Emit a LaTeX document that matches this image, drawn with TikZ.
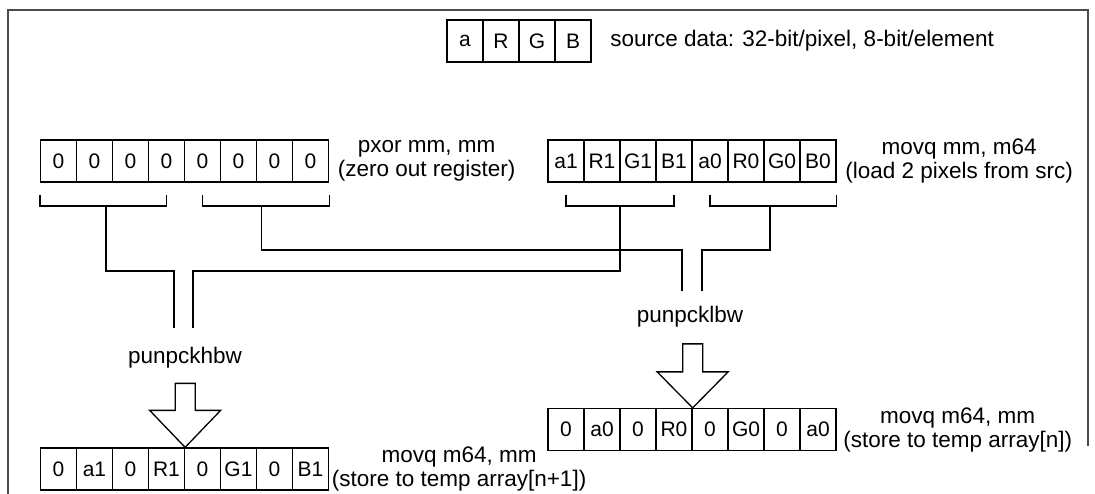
\documentclass[tikz,border=0pt]{standalone}
\usepackage{fontspec}
\setmainfont{Liberation Sans}
\begin{document}
\begin{tikzpicture}[x=1pt,y=-1pt,line width=1.3pt,
  cell/.style={draw,minimum width=36pt,minimum height=42pt,inner sep=0pt,font=\fontsize{21}{23}\selectfont},
  lbl/.style={font=\fontsize{22.5}{24}\selectfont,align=center,inner sep=2pt},
  frame/.style={line width=1.6pt,draw=black!70},
  wire/.style={line width=1.3pt},
  hollow/.style={draw,line width=1.3pt,fill=white,line join=miter}]
\useasboundingbox (0,0) rectangle (1095,494);
\draw[frame] (8,494) -- (8,10) -- (1088,10) -- (1088,446);
% legend
\foreach \t [count=\i] in {a,R,G,B}
  \node[cell] (S\i) at ({447+18+(\i-1)*36},41) {\t};
\node[lbl,anchor=west] (stxt) at ([xshift=16pt]S4.east) {source data: 32-bit/pixel, 8-bit/element};
% top registers
\foreach \i in {1,...,8}
  \node[cell] (P\i) at ({40.5+18+(\i-1)*36},161) {0};
\foreach \t [count=\i] in {a1,R1,G1,B1,a0,R0,G0,B0}
  \node[cell] (M\i) at ({548+18+(\i-1)*36},161) {\t};
\node[lbl,anchor=west] (ptxt) at ([xshift=6pt]P8.east) {pxor mm, mm\\(zero out register)};
\node[lbl,anchor=west] (mtxt) at ([xshift=6pt]M8.east) {movq mm, m64\\(load 2 pixels from src)};
% bottom registers
\foreach \t [count=\i] in {0,a1,0,R1,0,G1,0,B1}
  \node[cell] (H\i) at ({40.5+18+(\i-1)*36},469) {\t};
\foreach \t [count=\i] in {0,a0,0,R0,0,G0,0,a0}
  \node[cell] (L\i) at ({548+18+(\i-1)*36},429.5) {\t};
\node[lbl,anchor=west] (htxt) at ([xshift=0pt]H8.east) {movq m64, mm\\(store to temp array[n+1])};
\node[lbl,anchor=west] (ltxt) at ([xshift=4pt]L8.east) {movq m64, mm\\(store to temp array[n])};
% brackets
\draw[wire] (P1.west |- 0,195) -- (P1.west |- 0,206) -- (P4 |- 0,206) -- (P4 |- 0,195);
\draw[wire] (P5 |- 0,195) -- (P5 |- 0,206) -- (P8.east |- 0,206) -- (P8.east |- 0,195);
\draw[wire] (M1 |- 0,195) -- (M1 |- 0,206) -- (M4 |- 0,206) -- (M4 |- 0,195);
\draw[wire] (M5 |- 0,195) -- (M5 |- 0,206) -- (M8.east |- 0,206) -- (M8.east |- 0,195);
\coordinate (b1) at (106,206);
\coordinate (b2) at (261.5,206);
\coordinate (b3) at (620,206);
\coordinate (b4) at (770,206);
\coordinate (e1) at (174,328);
\coordinate (e2) at (193,328);
\coordinate (e3) at (682,291);
\coordinate (e4) at (702,291);
% wires
\draw[wire] (b1) -- (106,271) -- (174,271) -- (e1);
\draw[wire] (b3) -- (620,271) -- (193,271) -- (e2);
\draw[wire] (b2) -- (261.5,250) -- (682,250) -- (e3);
\draw[wire] (b4) -- (770,250) -- (702,250) -- (e4);
% operation labels
\node[lbl] (khbw) at (185,358) {punpckhbw};
\node[lbl] (klbw) at (690,317) {punpcklbw};
% hollow arrows
\draw[hollow] (H4.north east) -- ++(-35.5,-37) -- ++(25.5,0) -- ++(0,-27) -- ++(20,0) -- ++(0,27) -- ++(25.5,0) -- cycle;
\draw[hollow] (L4.north east) -- ++(-35.5,-36) -- ++(25.5,0) -- ++(0,-28) -- ++(20,0) -- ++(0,28) -- ++(25.5,0) -- cycle;
\end{tikzpicture}
\end{document}
